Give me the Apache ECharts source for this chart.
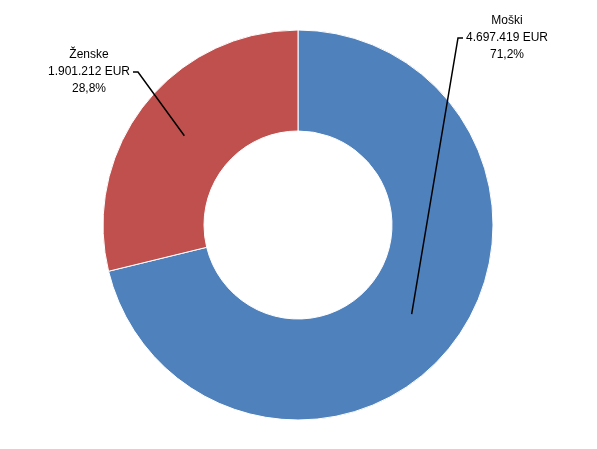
<!DOCTYPE html>
<html>
<head>
<meta charset="utf-8">
<script src="https://cdn.jsdelivr.net/npm/echarts@6/dist/echarts.min.js"></script>
<style>html,body{margin:0;padding:0;background:#fff}#c{width:597px;height:449px}</style>
</head>
<body>
<div id="c"></div>
<script>
const categories = ['Moški', 'Ženske'];
const values = [4697419, 1901212];
const colors = ['#4F81BD', '#C0504D'];

const total = values.reduce((a, b) => a + b, 0);
function fmtNum(n) {
  return String(n).replace(/\B(?=(\d{3})+(?!\d))/g, '.');
}
function fmtPct(v) {
  return (v / total * 100).toFixed(1).replace('.', ',') + '%';
}

const cx = 298, cy = 225, rIn = 94, rOut = 195;
const labelPos = [
  { x: 507, y: 38, elbow: [458, 38], end: [463, 38] },
  { x: 89, y: 72, elbow: [138, 72], end: [133, 72] }
];

const chart = echarts.init(document.getElementById('c'), null, { renderer: 'canvas' });
const pieData = categories.map((c, i) => ({ name: c, value: values[i], itemStyle: { color: colors[i] } }));
chart.setOption({
  animation: false,
  backgroundColor: '#fff',
  series: [{
    type: 'pie',
    z: 1,
    center: [cx, cy],
    radius: [rIn, rOut],
    startAngle: 90,
    clockwise: true,
    silent: true,
    itemStyle: { borderColor: '#fff', borderWidth: 1 },
    label: { show: false },
    labelLine: { show: false },
    data: pieData
  }, {
    type: 'pie',
    z: 5,
    center: [cx, cy],
    radius: [rIn, rOut],
    startAngle: 90,
    clockwise: true,
    silent: true,
    avoidLabelOverlap: false,
    itemStyle: { color: 'rgba(0,0,0,0)', borderWidth: 0 },
    data: categories.map((c, i) => ({ name: c, value: values[i] })),
    label: {
      show: true,
      position: 'outside',
      formatter: p => p.name + '\n' + fmtNum(p.value) + ' EUR\n' + fmtPct(p.value),
      fontFamily: 'Liberation Sans',
      fontSize: 12,
      lineHeight: 17,
      color: '#000',
      align: 'center'
    },
    labelLine: { show: true, length: 10, length2: 10, lineStyle: { color: '#000', width: 1.5 } },
    labelLayout: function (params) {
      const i = params.dataIndex;
      let before = 0;
      for (let k = 0; k < i; k++) before += values[k];
      const midFrac = (before + values[i] / 2) / total;
      const ang = midFrac * 2 * Math.PI;
      const rm = (rIn + rOut) / 2;
      const sx = cx + rm * Math.sin(ang);
      const sy = cy - rm * Math.cos(ang);
      const lp = labelPos[i];
      return {
        x: lp.x, y: lp.y,
        align: 'center', verticalAlign: 'middle',
        labelLinePoints: [[sx, sy], lp.elbow, lp.end]
      };
    }
  }]
});
</script>
</body>
</html>
